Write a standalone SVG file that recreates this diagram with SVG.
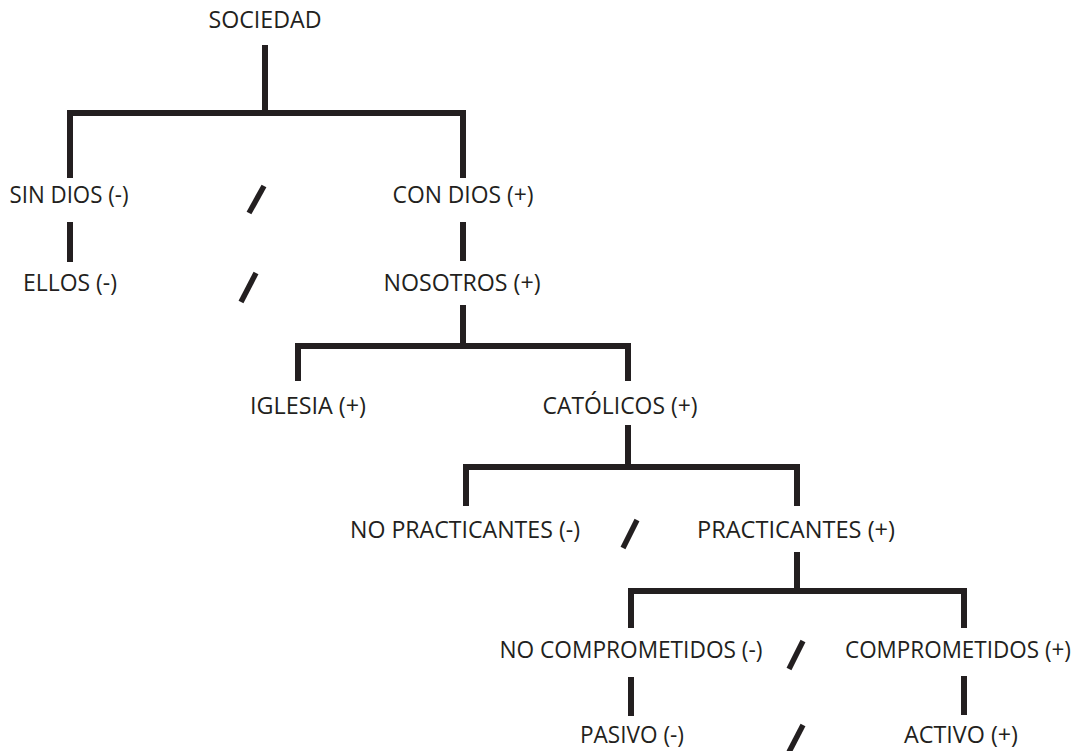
<svg xmlns="http://www.w3.org/2000/svg" width="1084" height="751" viewBox="0 0 1084 751">
  <style>
    .lbl { font-family: "Open Sans", "Noto Sans", "Liberation Sans", sans-serif; font-size: 24px; fill: #231f20; text-anchor: middle; }
    .ln { fill: none; stroke: #231f20; stroke-width: 6; stroke-linecap: butt; stroke-linejoin: miter; }
    .sl { fill: none; stroke: #231f20; stroke-width: 5.5; stroke-linecap: butt; }
  </style>
  <rect width="1084" height="751" fill="#ffffff"/>

  <!-- tree connectors -->
  <g id="connectors">
    <path class="ln" d="M265,45 V113"/>
    <path class="ln" d="M70,178 V113 H463 V178"/>
    <path class="ln" d="M70,222 V262"/>
    <path class="ln" d="M463,222 V261"/>
    <path class="ln" d="M463,305 V346"/>
    <path class="ln" d="M298,381 V346 H628 V381"/>
    <path class="ln" d="M628,425 V467"/>
    <path class="ln" d="M466,506 V467 H797 V506"/>
    <path class="ln" d="M797,552 V591"/>
    <path class="ln" d="M631,628 V591 H964 V628"/>
    <path class="ln" d="M631,677 V716"/>
    <path class="ln" d="M964,676 V715"/>
    <!-- opposition slashes -->
    <path class="sl" d="M264,186 L249,213"/>
    <path class="sl" d="M256,273 L241,302"/>
    <path class="sl" d="M637,520 L623,548"/>
    <path class="sl" d="M803,641 L789,669"/>
    <path class="sl" d="M803,725 L789,752"/>
  </g>

  <g id="sociedad"><text class="lbl" x="265" y="28" textLength="113" lengthAdjust="spacingAndGlyphs">SOCIEDAD</text></g>
  <g id="sin-dios"><text class="lbl" x="69" y="203" textLength="119" lengthAdjust="spacingAndGlyphs">SIN DIOS (-)</text></g>
  <g id="con-dios"><text class="lbl" x="463" y="203" textLength="141" lengthAdjust="spacingAndGlyphs">CON DIOS (+)</text></g>
  <g id="ellos"><text class="lbl" x="70" y="291" textLength="94" lengthAdjust="spacingAndGlyphs">ELLOS (-)</text></g>
  <g id="nosotros"><text class="lbl" x="462" y="291" textLength="157" lengthAdjust="spacingAndGlyphs">NOSOTROS (+)</text></g>
  <g id="iglesia"><text class="lbl" x="308" y="414" textLength="116" lengthAdjust="spacingAndGlyphs">IGLESIA (+)</text></g>
  <g id="catolicos"><text class="lbl" x="620" y="414" textLength="155" lengthAdjust="spacingAndGlyphs">CATÓLICOS (+)</text></g>
  <g id="no-practicantes"><text class="lbl" x="465" y="538" textLength="230" lengthAdjust="spacingAndGlyphs">NO PRACTICANTES (-)</text></g>
  <g id="practicantes"><text class="lbl" x="796" y="538" textLength="198" lengthAdjust="spacingAndGlyphs">PRACTICANTES (+)</text></g>
  <g id="no-comprometidos"><text class="lbl" x="631" y="658" textLength="263" lengthAdjust="spacingAndGlyphs">NO COMPROMETIDOS (-)</text></g>
  <g id="comprometidos"><text class="lbl" x="958" y="658" font-size="23" textLength="226" lengthAdjust="spacingAndGlyphs">COMPROMETIDOS (+)</text></g>
  <g id="pasivo"><text class="lbl" x="632" y="743" textLength="104" lengthAdjust="spacingAndGlyphs">PASIVO (-)</text></g>
  <g id="activo"><text class="lbl" x="961" y="743" textLength="114" lengthAdjust="spacingAndGlyphs">ACTIVO (+)</text></g>
</svg>
